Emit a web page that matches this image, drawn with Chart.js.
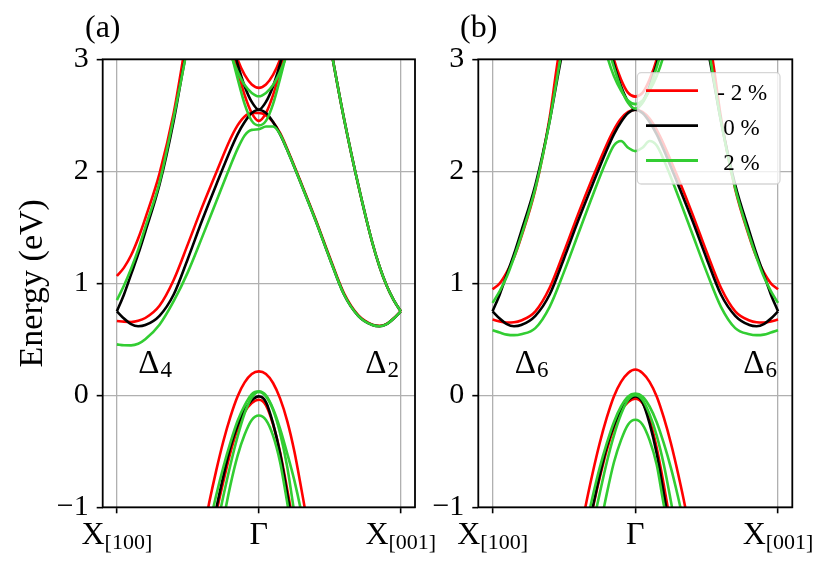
<!DOCTYPE html>
<html>
<head>
<meta charset="utf-8">
<script src="https://cdn.jsdelivr.net/npm/chart.js@4.4.1/dist/chart.umd.min.js"></script>
<style>
  html, body { margin: 0; padding: 0; background: #fff; }
  #wrap { position: relative; width: 831px; height: 568px; }
  #ca { position: absolute; left: 0; top: 0; }
  #cb { position: absolute; left: 420px; top: 0; }
</style>
</head>
<body>
<div id="wrap">
  <canvas id="ca" width="460" height="568"></canvas>
  <canvas id="cb" width="411" height="568"></canvas>
</div>
<script>
// k-path: X[100] = -1, Gamma = 0, X[001] = 1
const xTicks = [-1, 0, 1];
const xTickMain = ['X', '\u0393', 'X'];
const xTickSub = ['[100]', '', '[001]'];
const legendLabels = ['- 2 %', '0 %', '2 %'];

// conduction band through Gamma (valley on both sides)
const kPath = [-1,-0.95,-0.9,-0.85,-0.8,-0.7,-0.6,-0.5,-0.4,-0.3,-0.2,-0.15,-0.1,-0.05,0,0.05,0.1,0.15,0.2,0.3,0.4,0.5,0.6,0.7,0.8,0.85,0.9,0.95,1];
const blackLambda  = [0.75,0.685,0.635,0.617,0.627,0.71,0.9,1.22,1.56,1.88,2.19,2.33,2.44,2.52,2.55,2.52,2.44,2.33,2.19,1.88,1.56,1.22,0.9,0.71,0.627,0.617,0.635,0.685,0.75];
const aRedLambda   = [0.664,0.658,0.655,0.665,0.69,0.8,1.03,1.35,1.68,1.99,2.29,2.41,2.49,2.52,2.52,2.5,2.44,2.34,2.2,1.89,1.57,1.23,0.91,0.715,0.63,0.62,0.638,0.688,0.752];
const aGreenLambda = [0.455,0.447,0.446,0.46,0.5,0.63,0.84,1.1,1.41,1.73,2.05,2.2,2.32,2.37,2.375,2.4,2.4,2.33,2.19,1.88,1.56,1.22,0.9,0.71,0.627,0.617,0.635,0.685,0.75];
const bRedLambda   = [0.676,0.66,0.65,0.652,0.668,0.75,0.96,1.28,1.62,1.94,2.24,2.37,2.47,2.53,2.55,2.53,2.47,2.37,2.24,1.94,1.62,1.28,0.96,0.75,0.668,0.652,0.65,0.66,0.676];
const bGreenLambda = [0.58,0.56,0.542,0.537,0.545,0.6,0.79,1.1,1.44,1.78,2.1,2.23,2.27,2.21,2.18,2.21,2.27,2.23,2.1,1.78,1.44,1.1,0.79,0.6,0.545,0.537,0.542,0.56,0.58];

// steep bands rising from the X points
const kOuterL = [-1,-0.95,-0.9,-0.85,-0.8,-0.7,-0.6,-0.55,-0.5,-0.45];
const kOuterR = [1,0.95,0.9,0.85,0.8,0.7,0.6,0.55,0.5,0.45];
const blackOuter  = [0.75,0.9,1.08,1.26,1.46,1.88,2.45,2.8,3.15,3.55];
const aRedOuter   = [1.065,1.14,1.25,1.4,1.58,1.98,2.52,2.88,3.27,3.65];
const aGreenOuter = [0.85,0.98,1.13,1.3,1.5,1.9,2.48,2.8,3.13,3.5];
const aOuterRight = [0.75,0.85,0.98,1.15,1.36,1.88,2.47,2.8,3.15,3.55];
const bRedOuter   = [0.946,1.0,1.1,1.23,1.41,1.84,2.48,2.93,3.33,3.7];
const bGreenOuter = [0.825,0.93,1.06,1.23,1.42,1.85,2.45,2.82,3.2,3.6];

// upper bands at Gamma
const kGamma = [-0.25,-0.2,-0.15,-0.1,-0.05,0,0.05,0.1,0.15,0.2,0.25];
const blackV  = [3.45,3.2,2.96,2.76,2.62,2.55,2.62,2.76,2.96,3.2,3.45];
const aRedU   = [3.45,3.2,3.0,2.86,2.775,2.745,2.775,2.86,3.0,3.2,3.45];
const aRedV   = [3.4,3.15,2.9,2.68,2.52,2.45,2.52,2.68,2.9,3.15,3.4];
const aGreenU = [3.27,3.05,2.89,2.77,2.7,2.67,2.7,2.77,2.89,3.05,3.27];
const aGreenV = [3.35,3.08,2.83,2.6,2.45,2.41,2.45,2.6,2.83,3.08,3.35];
const bRedU   = [3.55,3.3,3.0,2.82,2.7,2.667,2.7,2.82,3.0,3.3,3.55];
const bGreenU = [3.3,3.04,2.85,2.72,2.63,2.6,2.63,2.72,2.85,3.04,3.3];
const bGreenV = [3.4,3.15,2.93,2.74,2.61,2.56,2.61,2.74,2.93,3.15,3.4];

// valence bands
const kVal = [-0.45,-0.4,-0.35,-0.3,-0.25,-0.2,-0.15,-0.1,-0.05,0,0.05,0.1,0.15,0.2,0.25,0.3,0.35,0.4,0.45];
const blackVal   = [-2.0,-1.65,-1.32,-1.01,-0.72,-0.46,-0.27,-0.13,-0.045,-0.01,-0.06,-0.25,-0.52,-0.88,-1.25,-1.65,-2.05,-2.5,-2.9];
const aRedVal1   = [-1.62,-1.28,-0.96,-0.67,-0.41,-0.19,-0.01,0.115,0.19,0.214,0.19,0.11,-0.03,-0.23,-0.5,-0.84,-1.2,-1.6,-2.0];
const aRedVal2   = [-2.05,-1.7,-1.36,-1.05,-0.77,-0.51,-0.3,-0.15,-0.07,-0.04,-0.09,-0.26,-0.51,-0.84,-1.2,-1.6,-2.0,-2.4,-2.8];
const aGreenVal1 = [-1.75,-1.45,-1.17,-0.89,-0.64,-0.42,-0.23,-0.09,0.01,0.036,0.0,-0.12,-0.3,-0.52,-0.76,-1.05,-1.4,-1.75,-2.1];
const aGreenVal2 = [-2.1,-1.8,-1.5,-1.2,-0.9,-0.62,-0.37,-0.16,-0.02,0.03,-0.01,-0.13,-0.34,-0.64,-1.05,-1.45,-1.85,-2.25,-2.65];
const aGreenVal3 = [-2.5,-2.2,-1.85,-1.5,-1.12,-0.8,-0.54,-0.35,-0.22,-0.18,-0.22,-0.36,-0.6,-0.96,-1.35,-1.75,-2.2,-2.6,-3.0];
const bRedVal1   = [-1.7,-1.35,-1.0,-0.7,-0.43,-0.2,-0.01,0.12,0.2,0.23,0.2,0.12,-0.01,-0.2,-0.43,-0.7,-1.0,-1.35,-1.7];
const bRedVal2   = [-2.0,-1.65,-1.32,-1.02,-0.74,-0.49,-0.29,-0.14,-0.06,-0.03,-0.07,-0.22,-0.47,-0.8,-1.17,-1.57,-2.0,-2.4,-2.8];
const bGreenVal1 = [-1.8,-1.5,-1.2,-0.91,-0.65,-0.43,-0.24,-0.1,-0.01,0.015,-0.01,-0.1,-0.24,-0.43,-0.65,-0.91,-1.2,-1.5,-1.8];
const bGreenVal2 = [-2.1,-1.8,-1.48,-1.17,-0.88,-0.6,-0.36,-0.17,-0.04,0.0,-0.04,-0.17,-0.36,-0.62,-0.95,-1.3,-1.7,-2.1,-2.5];
const bGreenVal3 = [-2.6,-2.25,-1.9,-1.55,-1.2,-0.88,-0.6,-0.4,-0.26,-0.218,-0.26,-0.4,-0.62,-0.98,-1.27,-1.65,-2.05,-2.5,-2.9];

const RED = '#ff0000', BLACK = '#000000', GREEN = '#32cd32';
const SERIF = "'Liberation Serif', 'Times New Roman', serif";

function band(k, e, color) {
  return {
    data: k.map((x, i) => ({ x: x, y: e[i] })),
    borderColor: color,
    borderWidth: 2.6,
    pointRadius: 0,
    fill: false,
    cubicInterpolationMode: 'monotone',
    // green drawn on top, red at the bottom
    order: color === GREEN ? 0 : (color === BLACK ? 1 : 2)
  };
}

const bandsA = [
  band(kPath, aRedLambda, RED), band(kOuterL, aRedOuter, RED), band(kOuterR, aOuterRight, RED),
  band(kGamma, aRedU, RED), band(kGamma, aRedV, RED), band(kVal, aRedVal1, RED), band(kVal, aRedVal2, RED),
  band(kPath, blackLambda, BLACK), band(kOuterL, blackOuter, BLACK), band(kOuterR, aOuterRight, BLACK),
  band(kGamma, blackV, BLACK), band(kVal, blackVal, BLACK),
  band(kPath, aGreenLambda, GREEN), band(kOuterL, aGreenOuter, GREEN), band(kOuterR, aOuterRight, GREEN),
  band(kGamma, aGreenU, GREEN), band(kGamma, aGreenV, GREEN),
  band(kVal, aGreenVal1, GREEN), band(kVal, aGreenVal2, GREEN), band(kVal, aGreenVal3, GREEN)
];

const bandsB = [
  band(kPath, bRedLambda, RED), band(kOuterL, bRedOuter, RED), band(kOuterR, bRedOuter, RED),
  band(kGamma, bRedU, RED), band(kVal, bRedVal1, RED), band(kVal, bRedVal2, RED),
  band(kPath, blackLambda, BLACK), band(kOuterL, blackOuter, BLACK), band(kOuterR, blackOuter, BLACK),
  band(kGamma, blackV, BLACK), band(kVal, blackVal, BLACK),
  band(kPath, bGreenLambda, GREEN), band(kOuterL, bGreenOuter, GREEN), band(kOuterR, bGreenOuter, GREEN),
  band(kGamma, bGreenU, GREEN), band(kGamma, bGreenV, GREEN),
  band(kVal, bGreenVal1, GREEN), band(kVal, bGreenVal2, GREEN), band(kVal, bGreenVal3, GREEN)
];

// draws frame, x tick labels with subscripts, panel letter, Delta labels, legend
function decoPlugin(cfg) {
  return {
    id: 'deco',
    afterDraw(chart) {
      const ctx = chart.ctx, a = chart.chartArea;
      const xs = chart.scales.x, ys = chart.scales.y;
      ctx.save();
      ctx.strokeStyle = '#000';
      ctx.lineWidth = 1.8;
      ctx.strokeRect(a.left, a.top, a.right - a.left, a.bottom - a.top);

      ctx.fillStyle = '#000';
      ctx.textBaseline = 'alphabetic';
      ctx.textAlign = 'left';
      xTicks.forEach((v, i) => {
        ctx.font = '32px ' + SERIF;
        const wm = ctx.measureText(xTickMain[i]).width;
        ctx.font = '22px ' + SERIF;
        const ws = xTickSub[i] ? ctx.measureText(xTickSub[i]).width : 0;
        const x0 = xs.getPixelForValue(v) - (wm + ws) / 2;
        ctx.font = '32px ' + SERIF;
        ctx.fillText(xTickMain[i], x0, 544);
        if (xTickSub[i]) {
          ctx.font = '22px ' + SERIF;
          ctx.fillText(xTickSub[i], x0 + wm, 549);
        }
      });

      ctx.font = '32px ' + SERIF;
      ctx.fillText(cfg.letter, cfg.letterX, 37);

      cfg.deltas.forEach(d => {
        const x = xs.getPixelForValue(d.k), y = ys.getPixelForValue(d.e);
        ctx.font = '33px ' + SERIF;
        ctx.fillText('\u0394', x, y);
        const w = ctx.measureText('\u0394').width;
        ctx.font = '23px ' + SERIF;
        ctx.fillText(d.sub, x + w + 1, y + 4);
      });

      if (cfg.yTitle) {
        ctx.save();
        ctx.translate(33, (a.top + a.bottom) / 2);
        ctx.rotate(-Math.PI / 2);
        ctx.textAlign = 'center';
        ctx.textBaseline = 'middle';
        ctx.font = '34px ' + SERIF;
        ctx.fillText('Energy (eV)', 0, 0);
        ctx.restore();
      }

      if (cfg.legend) {
        const L = cfg.legend;
        ctx.beginPath();
        ctx.roundRect(L.x, L.y, L.w, L.h, 4);
        ctx.fillStyle = 'rgba(255,255,255,0.8)';
        ctx.fill();
        ctx.strokeStyle = 'rgba(204,204,204,0.8)';
        ctx.lineWidth = 1.3;
        ctx.stroke();
        const cols = [RED, BLACK, GREEN];
        legendLabels.forEach((t, i) => {
          const yy = L.rows[i];
          ctx.strokeStyle = cols[i];
          ctx.lineWidth = 2.8;
          ctx.beginPath();
          ctx.moveTo(L.lineX0, yy);
          ctx.lineTo(L.lineX1, yy);
          ctx.stroke();
          ctx.fillStyle = '#000';
          ctx.font = '23px ' + SERIF;
          ctx.textAlign = 'left';
          ctx.textBaseline = 'alphabetic';
          ctx.fillText(t, L.textX[i], yy + 9);
        });
      }
      ctx.restore();
    }
  };
}

function makePanel(id, datasets, cfg) {
  return new Chart(document.getElementById(id), {
    type: 'line',
    data: { datasets: datasets },
    options: {
      responsive: false,
      animation: false,
      events: [],
      layout: { padding: { left: 0, top: 59.3, right: cfg.padRight, bottom: 0 } },
      plugins: { legend: { display: false }, tooltip: { enabled: false } },
      scales: {
        x: {
          type: 'linear', min: -1.1, max: 1.1,
          afterBuildTicks: s => { s.ticks = xTicks.map(v => ({ value: v })); },
          afterFit: s => { s.height = 60.7; },
          ticks: { callback: () => '' },
          grid: { color: '#b0b0b0', lineWidth: 1.3, tickColor: '#000', tickLength: 6, tickWidth: 1.6 },
          border: { display: false }
        },
        y: {
          type: 'linear', min: -1, max: 3,
          afterFit: s => { s.width = cfg.axisWidth; },
          ticks: {
            stepSize: 1, padding: 8, color: '#000',
            font: { family: SERIF, size: 30 },
            callback: v => (v < 0 ? '\u2212' + Math.abs(v) : String(v))
          },
          grid: { color: '#b0b0b0', lineWidth: 1.3, tickColor: '#000', tickLength: 6, tickWidth: 1.6 },
          border: { display: false }
        }
      }
    },
    plugins: [decoPlugin(cfg)]
  });
}

makePanel('ca', bandsA, {
  axisWidth: 102.7, padRight: 45, letter: '(a)', letterX: 85, yTitle: true,
  deltas: [{ k: -0.85, e: 0.2, sub: '4' }, { k: 0.75, e: 0.2, sub: '2' }]
});

makePanel('cb', bandsB, {
  axisWidth: 58.3, padRight: 38.7, letter: '(b)', letterX: 40, yTitle: false,
  deltas: [{ k: -0.845, e: 0.2, sub: '6' }, { k: 0.757, e: 0.2, sub: '6' }],
  legend: {
    x: 217.3, y: 72.7, w: 142.7, h: 111.3,
    lineX0: 226, lineX1: 278, rows: [90.7, 125.7, 160.5],
    textX: [297.3, 303.3, 303.3]
  }
});
</script>
</body>
</html>
